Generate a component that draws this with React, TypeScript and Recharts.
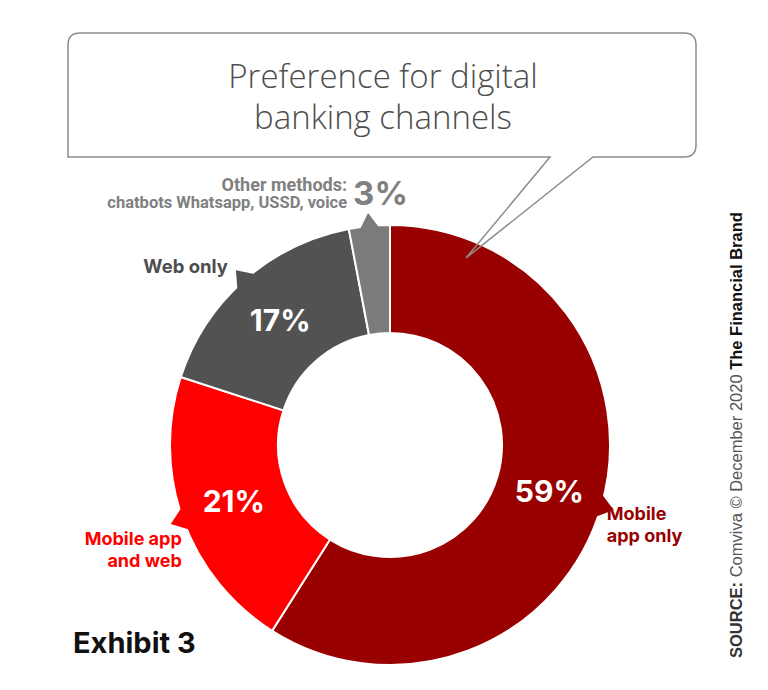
import { PieChart, Pie, Cell } from 'recharts';

const CHANNELS = ['Mobile app only', 'Mobile app and web', 'Web only', 'Other methods'];
const SHARES = [59, 21, 17, 3];
const LABEL_LINES = [
  ['Mobile', 'app only'],
  ['Mobile app', 'and web'],
  ['Web only'],
  ['Other methods:', 'chatbots Whatsapp, USSD, voice'],
];
const COLORS = ['#990000', '#ff0000', '#525252', '#7b7b7b'];
const LABEL_COLORS = ['#990000', '#ff0000', '#4d4d4d', '#808080'];

const data = CHANNELS.map((name, i) => ({ name, value: SHARES[i] }));

const RAD = Math.PI / 180;
const FONT = 'Inter, "Open Sans", sans-serif';

function renderLabel(props: any) {
  const { cx, cy, midAngle, innerRadius, outerRadius, index } = props;
  const cos = Math.cos(-midAngle * RAD);
  const sin = Math.sin(-midAngle * RAD);
  const color = COLORS[index];

  // little pointer notch on the rim
  const bx = cx + (outerRadius - 3) * cos;
  const by = cy + (outerRadius - 3) * sin;
  const tx = cx + (outerRadius + 13) * cos;
  const ty = cy + (outerRadius + 13) * sin;
  const hw = index === 3 ? 10 : 12;
  const notch = `${bx - sin * hw},${by + cos * hw} ${tx},${ty} ${bx + sin * hw},${by - cos * hw}`;

  const mr = (innerRadius + outerRadius) / 2;
  const px = cx + mr * cos;
  const py = cy + mr * sin;
  const lines = LABEL_LINES[index];
  const lc = LABEL_COLORS[index];

  let name = null;
  if (index === 0) {
    name = (
      <text x={tx - 7} y={ty + 10} fill={lc} fontSize={18} fontWeight={700} fontFamily={FONT} textAnchor="start">
        <tspan x={tx - 7}>{lines[0]}</tspan>
        <tspan x={tx - 7} dy={22}>{lines[1]}</tspan>
      </text>
    );
  } else if (index === 1) {
    name = (
      <text x={tx + 11} y={ty + 21} fill={lc} fontSize={18} fontWeight={700} fontFamily={FONT} textAnchor="end">
        <tspan x={tx + 11}>{lines[0]}</tspan>
        <tspan x={tx + 11} dy={22}>{lines[1]}</tspan>
      </text>
    );
  } else if (index === 2) {
    name = (
      <text x={tx - 8} y={ty + 3} fill={lc} fontSize={18.5} fontWeight={700} fontFamily={FONT} textAnchor="end">
        {lines[0]}
      </text>
    );
  } else {
    name = (
      <g>
        <text x={tx - 21} y={ty - 22} fill={lc} fontSize={18} fontWeight={700} fontFamily='Roboto, sans-serif' textAnchor="end">
          <tspan x={tx - 21}>{lines[0]}</tspan>
          <tspan x={tx - 21} dy={17} fontSize={16.5}>{lines[1]}</tspan>
        </text>
        <text x={tx - 15} y={ty - 8} fill={lc} fontSize={33} fontWeight={700} fontFamily={FONT} textAnchor="start">
          {SHARES[index]}%
        </text>
      </g>
    );
  }

  return (
    <g>
      <polygon points={notch} fill={color} />
      {index < 3 && (
        <text x={px} y={py} fill="#fff" fontSize={30} fontWeight={700} fontFamily={FONT} textAnchor="middle" dominantBaseline="central">
          {SHARES[index]}%
        </text>
      )}
      {name}
    </g>
  );
}

export default function App() {
  return (
    <div style={{ position: 'absolute', left: 0, top: 0, width: 768, height: 690, background: '#fff' }}>
      <div style={{ position: 'absolute', left: 0, top: 0 }}>
        <PieChart width={768} height={690} margin={{ top: 0, right: 0, bottom: 0, left: 0 }}>
          <Pie
            data={data}
            dataKey="value"
            cx={390}
            cy={445}
            innerRadius={112}
            outerRadius={220}
            startAngle={90}
            endAngle={-270}
            stroke="#fff"
            strokeWidth={2}
            label={renderLabel}
            labelLine={false}
            isAnimationActive={false}
          >
            {data.map((d, i) => (
              <Cell key={d.name} fill={COLORS[i]} />
            ))}
          </Pie>
        </PieChart>
      </div>
      <svg width={768} height={690} style={{ position: 'absolute', left: 0, top: 0, pointerEvents: 'none' }}>
        <path
          d="M80,33 H684 Q696,33 696,45 V145 Q696,157 684,157 H593 L466,258 L550,157 H68 V45 Q68,33 80,33 Z"
          fill="none"
          stroke="#8c8c8c"
          strokeWidth={1.5}
        />
        <text x={383} y={88} textAnchor="middle" fontSize={33} fontWeight={300} fill="#4d4d4d" fontFamily='"Open Sans", sans-serif'>
          Preference for digital
        </text>
        <text x={383} y={129} textAnchor="middle" fontSize={33} fontWeight={300} fill="#4d4d4d" fontFamily='"Open Sans", sans-serif'>
          banking channels
        </text>
        <text x={73} y={653} fontSize={29} fontWeight={700} fill="#111" fontFamily={FONT}>
          Exhibit 3
        </text>
        <text
          transform="translate(742,658) rotate(-90)"
          fontSize={16.5}
          fontFamily='"Liberation Sans", Arial, sans-serif'
          fill="#555"
        >
          <tspan fontWeight={700} fill="#333">SOURCE:</tspan>
          <tspan> Comviva © December 2020 </tspan>
          <tspan fontWeight={700} fill="#111">The Financial Brand</tspan>
        </text>
      </svg>
    </div>
  );
}
